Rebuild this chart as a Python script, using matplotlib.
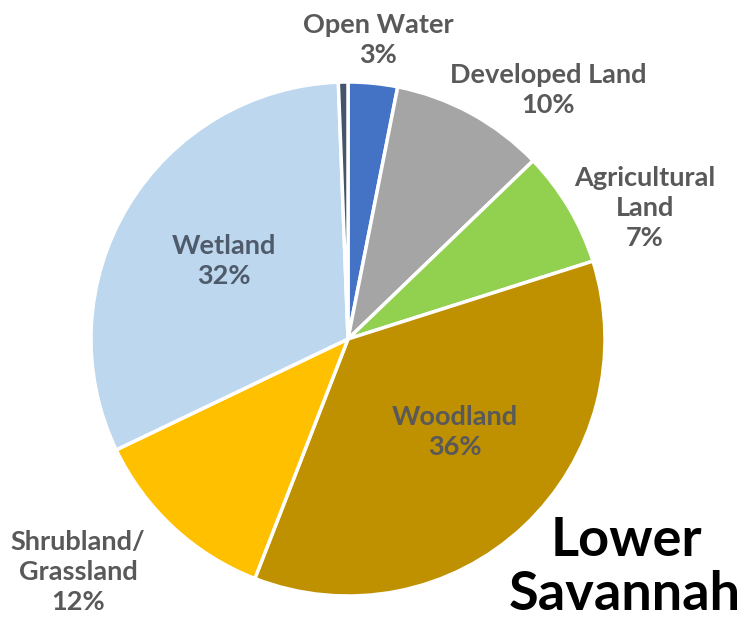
import matplotlib.pyplot as plt

# land cover shares, clockwise from the top
categories = ['Open Water', 'Developed Land', 'Agricultural\nLand', 'Woodland',
              'Shrubland/\nGrassland', 'Wetland', 'Barren']
shares = [3.1, 9.7, 7.3, 35.8, 12.0, 31.5, 0.6]
pct_labels = ['3%', '10%', '7%', '36%', '12%', '32%', '']
colors = ['#4472C4', '#A5A5A5', '#92D050', '#BF9000', '#FFC000', '#BDD7EE', '#44546A']

H = 621
# label anchor points in pixels (x, y from top)
label_pos = [(378, 40), (548, 90), (645, 208), (455, 432), (78, 572), (224, 261), None]
label_color = ['#595959', '#595959', '#595959', '#595959', '#595959', '#4F5B6A', None]

fig = plt.figure(figsize=(7.52, 6.21), dpi=100)
ax = fig.add_axes([0, 0, 1, 1])

ax.pie(shares, colors=colors, startangle=90, counterclock=False,
       center=(348, H - 339), radius=257, frame=True,
       wedgeprops=dict(edgecolor='white', linewidth=2.5))
ax.set_xlim(0, 752)
ax.set_ylim(0, H)
ax.set_aspect('equal')
ax.axis('off')

for name, pct, pos, col in zip(categories, pct_labels, label_pos, label_color):
    if pos is None:
        continue
    ax.text(pos[0], H - pos[1], name + '\n' + pct, ha='center', va='center',
            fontsize=19.5, fontweight='bold', color=col, family='Lato',
            linespacing=1.3)

ax.text(626, H - 540, 'Lower', ha='center', va='center', fontsize=39,
        fontweight='bold', color='black', family='Lato')
ax.text(625, H - 595, 'Savannah', ha='center', va='center', fontsize=39,
        fontweight='bold', color='black', family='Lato')

plt.savefig('out.png', dpi=100)
